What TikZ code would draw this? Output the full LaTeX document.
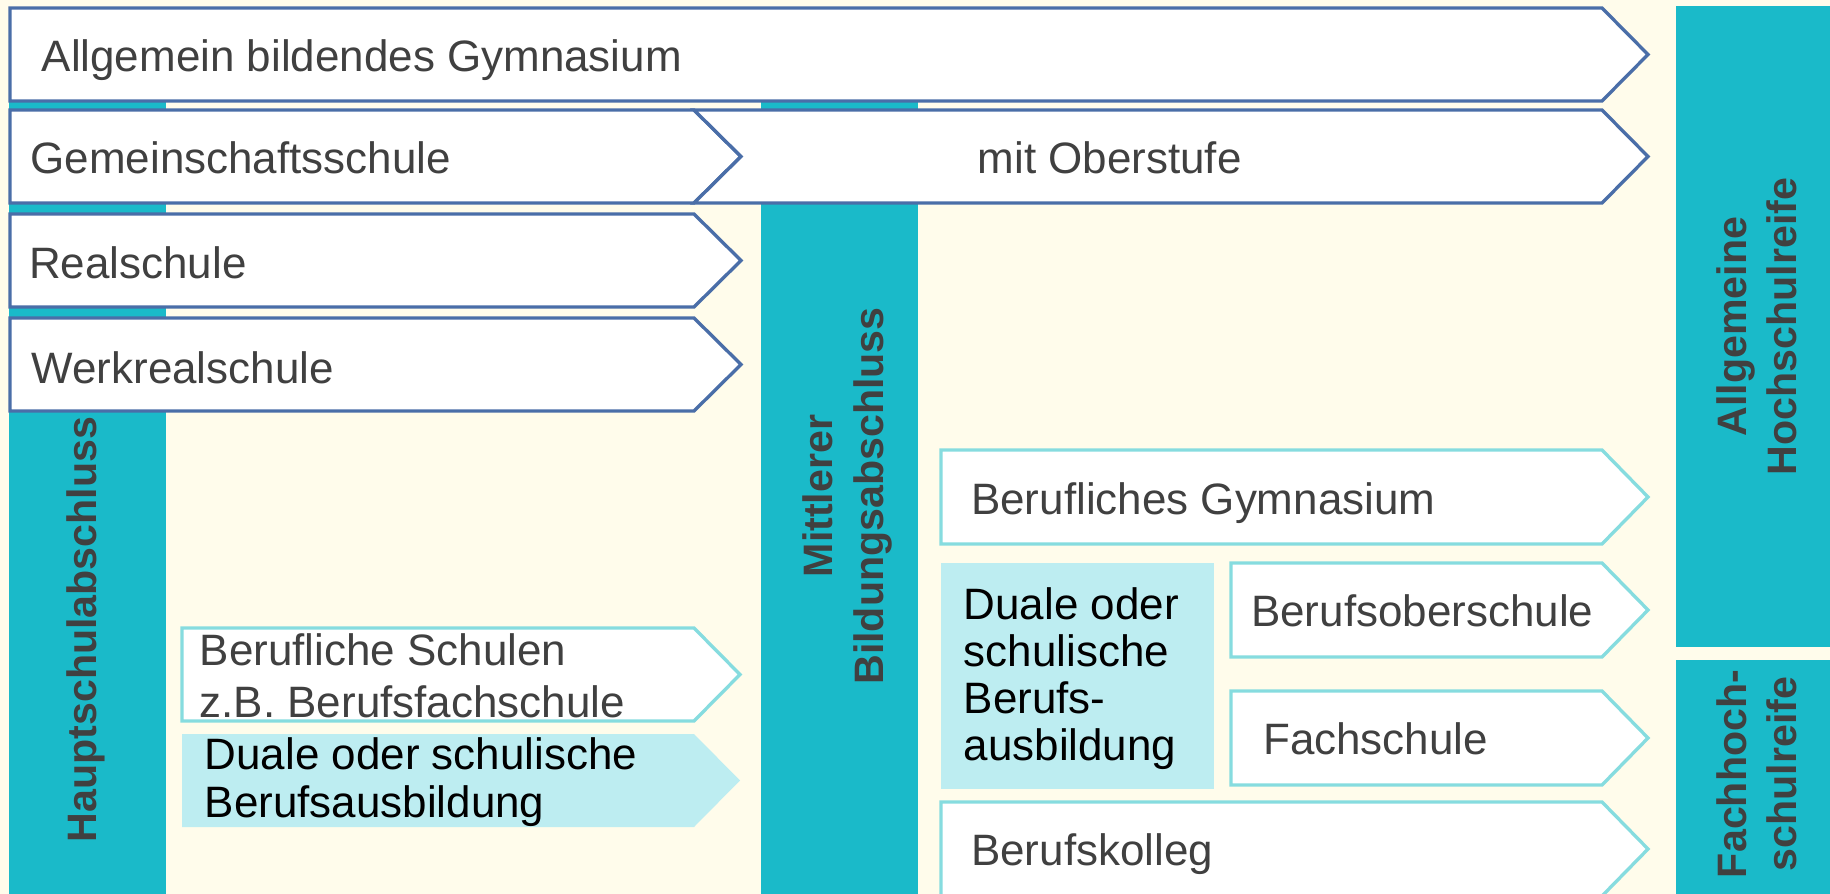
\documentclass[tikz,border=0pt]{standalone}
\usepackage{fontspec}
\setmainfont{Liberation Sans}

\definecolor{creme}{HTML}{FFFCEB}
\definecolor{tuerkis}{HTML}{1ABAC9}
\definecolor{blaurand}{HTML}{4A6EA8}
\definecolor{hellrand}{HTML}{86DCDF}
\definecolor{hellblau}{HTML}{BDEDF1}
\definecolor{schrift}{HTML}{404040}

\begin{document}
\begin{tikzpicture}[x=0.01cm,y=-0.01cm,
  blaupfeil/.style={draw=blaurand,fill=white,line width=0.95pt},
  hellpfeil/.style={draw=hellrand,fill=white,line width=0.95pt},
  ausbildung/.style={fill=hellblau},
  saeule/.style={fill=tuerkis},
  txt/.style={anchor=base west,inner sep=0pt,text=schrift,font=\fontsize{12.5}{15}\selectfont},
  abschluss/.style={rotate=90,inner sep=0pt,align=center,text=schrift,font=\bfseries\fontsize{11.7}{14.2}\selectfont}]
  \useasboundingbox (0,0) rectangle (1830,894);
  \clip (0,0) rectangle (1830,894);
  \fill[creme] (0,0) rectangle (1830,894);
  \fill[saeule] (9,60) rectangle (166,894);
  \fill[saeule] (761,60) rectangle (918,894);
  \fill[saeule] (1676,6) rectangle (1830,647);
  \fill[saeule] (1676,660) rectangle (1830,894);

  \draw[blaupfeil] (10,8) -- (1602,8) -- (1648,54.5) -- (1602,101) -- (10,101) -- cycle;
  \draw[blaupfeil] (10,110) -- (694,110) -- (741,156.5) -- (694,203) -- (10,203) -- cycle;
  \draw[blaupfeil] (694,110) -- (1602,110) -- (1648,156.5) -- (1602,203) -- (694,203) -- (741,156.5) -- cycle;
  \draw[blaupfeil] (10,214) -- (694,214) -- (741,260.5) -- (694,307) -- (10,307) -- cycle;
  \draw[blaupfeil] (10,318) -- (694,318) -- (741,364.5) -- (694,411) -- (10,411) -- cycle;

  \draw[hellpfeil] (182,628) -- (694,628) -- (740,674.5) -- (694,721) -- (182,721) -- cycle;
  \fill[ausbildung] (182,734) -- (694,734) -- (740,780.5) -- (694,827) -- (182,827) -- cycle;
  \draw[hellpfeil] (941,450) -- (1602,450) -- (1648,497) -- (1602,544) -- (941,544) -- cycle;
  \fill[ausbildung] (941,563) rectangle (1214,789);
  \draw[hellpfeil] (1231,563) -- (1602,563) -- (1648,610) -- (1602,657) -- (1231,657) -- cycle;
  \draw[hellpfeil] (1231,691) -- (1602,691) -- (1648,738) -- (1602,785) -- (1231,785) -- cycle;
  \draw[hellpfeil] (941,802) -- (1602,802) -- (1648,849) -- (1602,896) -- (941,896) -- cycle;

  \node[txt] (agym) at (41,71.7) {Allgemein bildendes Gymnasium};
  \node[txt] (gms) at (30,173.3) {Gemeinschaftsschule};
  \node[txt] (gmsob) at (977,173.3) {mit Oberstufe};
  \node[txt] (rs) at (28.5,278.3) {Realschule};
  \node[txt] (wrs) at (31,383.3) {Werkrealschule};
  \node[txt,anchor=north west,align=left,font=\fontsize{12.5}{14.6}\selectfont] (bs) at (199,633.2) {Berufliche Schulen\\z.B. Berufsfachschule};
  \node[txt,anchor=north west,align=left,text=black,font=\fontsize{12.5}{13.7}\selectfont] (dualL) at (204,736.5) {Duale oder schulische\\Berufsausbildung};
  \node[txt] (bgym) at (970.5,514) {Berufliches Gymnasium};
  \node[txt,anchor=north west,align=left,text=black,font=\fontsize{12.5}{13.4}\selectfont] (dualR) at (963,587) {Duale oder\\schulische\\Berufs-\\ausbildung};
  \node[txt] (bos) at (1250.5,626.7) {Berufsoberschule};
  \node[txt] (fs) at (1262.5,754) {Fachschule};
  \node[txt] (bk) at (970.5,865.7) {Berufskolleg};

  \node[abschluss,anchor=base] (hsa) at (97,629.5) {Hauptschulabschluss};
  \node[abschluss,font=\bfseries\fontsize{11.7}{14.5}\selectfont] (mba) at (847,496) {Mittlerer\\Bildungsabschluss};
  \node[abschluss] (ahr) at (1756.5,326.5) {Allgemeine\\Hochschulreife};
  \node[abschluss] (fhr) at (1756.5,774) {Fachhoch-\\schulreife};
\end{tikzpicture}
\end{document}
